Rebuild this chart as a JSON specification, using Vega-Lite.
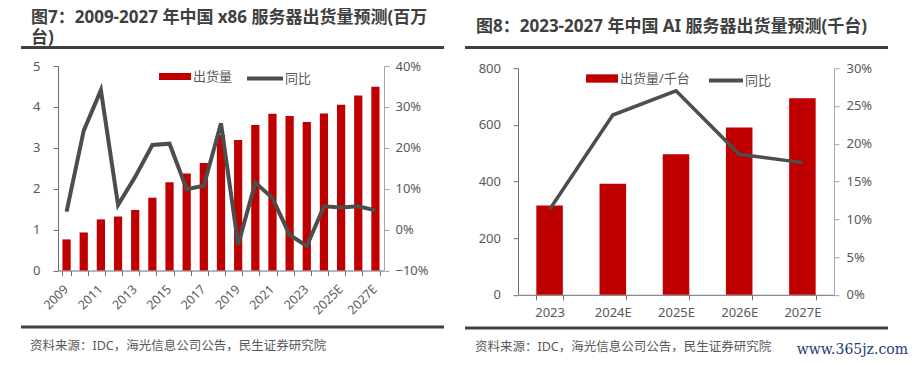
{
  "$schema": "https://vega.github.io/schema/vega-lite/v6.json",
  "padding": {"left": 21, "top": 7, "right": 5, "bottom": 5},
  "title": {"text": "www.365jz.com", "orient": "bottom", "anchor": "end", "offset": 0, "dx": 20, "dy": -11, "baseline": "top", "font": "DejaVu Serif", "fontSize": 14, "fontWeight": "normal", "color": "#1f3a73"},
  "config": {
    "font": "Noto Sans, Noto Sans CJK SC",
    "view": {"stroke": null},
    "axis": {"labelFont": "Noto Sans, Noto Sans CJK SC", "labelColor": "#595959", "labelFontSize": 13, "domainColor": "#6e6e6e", "tickColor": "#6e6e6e", "tickSize": 5, "grid": false},
    "legend": {"labelFont": "Noto Sans, Noto Sans CJK SC", "labelColor": "#595959", "labelFontSize": 13, "padding": 0}
  },
  "resolve": {"scale": {"color": "independent", "stroke": "independent"}},
  "spacing": 21,
  "hconcat": [
    {
      "resolve": {"scale": {"color": "independent", "stroke": "independent"}},
      "spacing": 2.5,
      "vconcat": [
        {
          "resolve": {"scale": {"color": "independent", "stroke": "independent"}},
          "bounds": "flush",
          "spacing": 18,
          "vconcat": [
            {
              "width": 421, "height": 1,
              "view": {"stroke": "#404040", "strokeWidth": 2},
              "title": {"text": ["图7：2009-2027 年中国 x86 服务器出货量预测(百万", "台)"], "anchor": "start", "frame": "group", "dx": 9, "offset": -22.3, "baseline": "bottom", "lineHeight": 20, "font": "Noto Sans, Noto Sans CJK SC", "fontSize": 17, "fontWeight": "bold", "color": "#404040"},
              "data": {"values": [{}]},
              "mark": {"type": "text", "text": ""},
              "encoding": {}
            },
            {
              "width": 421, "height": 204.5,
              "data": {"values": [
                {"year": "2009", "ship": 0.76, "yoy": 0.044},
                {"year": "2010", "ship": 0.93, "yoy": 0.242},
                {"year": "2011", "ship": 1.25, "yoy": 0.341},
                {"year": "2012", "ship": 1.32, "yoy": 0.060},
                {"year": "2013", "ship": 1.48, "yoy": 0.129},
                {"year": "2014", "ship": 1.78, "yoy": 0.207},
                {"year": "2015", "ship": 2.16, "yoy": 0.210},
                {"year": "2016", "ship": 2.37, "yoy": 0.099},
                {"year": "2017", "ship": 2.63, "yoy": 0.107},
                {"year": "2018", "ship": 3.31, "yoy": 0.260},
                {"year": "2019", "ship": 3.19, "yoy": -0.037},
                {"year": "2020", "ship": 3.56, "yoy": 0.115},
                {"year": "2021", "ship": 3.83, "yoy": 0.077},
                {"year": "2022", "ship": 3.78, "yoy": -0.013},
                {"year": "2023", "ship": 3.63, "yoy": -0.040},
                {"year": "2024E", "ship": 3.84, "yoy": 0.057},
                {"year": "2025E", "ship": 4.05, "yoy": 0.054},
                {"year": "2026E", "ship": 4.28, "yoy": 0.057},
                {"year": "2027E", "ship": 4.49, "yoy": 0.047}
              ]},
              "encoding": {
                "x": {"field": "year", "type": "ordinal", "sort": null,
                  "scale": {"range": [36, 362], "paddingInner": 0.52, "paddingOuter": 0.26},
                  "axis": {"title": null, "tickBand": "extent", "labelAngle": -45, "labelFontSize": 12.5, "labelPadding": 7, "labelOffset": -5, "labelOverlap": false,
                    "labelExpr": "indexof(['2009','2011','2013','2015','2017','2019','2021','2023','2025E','2027E'], datum.value) >= 0 ? datum.label : ''"}}
              },
              "layer": [
                {
                  "mark": {"type": "bar"},
                  "encoding": {
                    "y": {"field": "ship", "type": "quantitative", "scale": {"domain": [0, 5], "nice": false},
                      "axis": {"orient": "left", "offset": -36, "title": null, "values": [0, 1, 2, 3, 4, 5], "labelPadding": 13}},
                    "color": {"datum": "出货量", "scale": {"range": ["#c00000"]},
                      "legend": {"orient": "none", "legendX": 137, "legendY": -5.5, "title": null, "symbolType": "M-1,-0.22H1V0.22H-1Z", "symbolSize": 1024, "symbolStrokeWidth": 0, "labelOffset": 2}}
                  }
                },
                {
                  "mark": {"type": "line", "strokeWidth": 4},
                  "encoding": {
                    "y": {"field": "yoy", "type": "quantitative", "scale": {"domain": [-0.1, 0.4], "nice": false, "zero": false},
                      "axis": {"orient": "right", "offset": -59, "title": null, "values": [-0.1, 0, 0.1, 0.2, 0.3, 0.4], "format": ".0%", "labelPadding": 6, "domainColor": "#a6a6a6", "tickColor": "#a6a6a6"}},
                    "stroke": {"datum": "同比", "scale": {"range": ["#4d4d4d"]},
                      "legend": {"orient": "none", "legendX": 223, "legendY": -7.5, "title": null, "symbolType": "stroke", "symbolSize": 1296, "symbolStrokeWidth": 4, "labelOffset": 0}}
                  }
                }
              ],
              "resolve": {"scale": {"y": "independent"}}
            }
          ]
        },
        {
          "width": 421, "height": 1,
          "view": {"stroke": "#404040", "strokeWidth": 2},
          "title": {"text": "资料来源：IDC，海光信息公司公告，民生证券研究院", "orient": "bottom", "anchor": "start", "frame": "group", "dx": 8, "offset": 7.5, "baseline": "top", "font": "Noto Sans, Noto Sans CJK SC", "fontSize": 12.5, "fontWeight": "normal", "color": "#595959"},
          "data": {"values": [{}]},
          "mark": {"type": "text", "text": ""},
          "encoding": {}
        }
      ]
    },
    {
      "resolve": {"scale": {"color": "independent", "stroke": "independent"}},
      "spacing": 0.5,
      "vconcat": [
        {
          "resolve": {"scale": {"color": "independent", "stroke": "independent"}},
          "bounds": "flush",
          "spacing": 20.2,
          "vconcat": [
            {
              "width": 421, "height": 1,
              "view": {"stroke": "#404040", "strokeWidth": 2},
              "title": {"text": "图8：2023-2027 年中国 AI 服务器出货量预测(千台)", "anchor": "start", "frame": "group", "dx": 10, "offset": -11.5, "baseline": "bottom", "font": "Noto Sans, Noto Sans CJK SC", "fontSize": 17, "fontWeight": "bold", "color": "#404040"},
              "data": {"values": [{}]},
              "mark": {"type": "text", "text": ""},
              "encoding": {}
            },
            {
              "width": 421, "height": 226.6,
              "data": {"values": [
                {"year": "2023", "ship": 315, "yoy": 0.113},
                {"year": "2024E", "ship": 392, "yoy": 0.238},
                {"year": "2025E", "ship": 496, "yoy": 0.270},
                {"year": "2026E", "ship": 591, "yoy": 0.186},
                {"year": "2027E", "ship": 694, "yoy": 0.175}
              ]},
              "encoding": {
                "x": {"field": "year", "type": "ordinal", "sort": null,
                  "scale": {"range": [52, 368], "paddingInner": 0.58, "paddingOuter": 0.29},
                  "axis": {"title": null, "tickBand": "extent", "labelAngle": 0, "labelFontSize": 13, "labelPadding": 7}}
              },
              "layer": [
                {
                  "mark": {"type": "bar"},
                  "encoding": {
                    "y": {"field": "ship", "type": "quantitative", "scale": {"domain": [0, 800], "nice": false},
                      "axis": {"orient": "left", "offset": -52, "title": null, "values": [0, 200, 400, 600, 800], "labelPadding": 12.5}},
                    "color": {"datum": "出货量/千台", "scale": {"range": ["#c00000"]},
                      "legend": {"orient": "none", "legendX": 120, "legendY": -5.7, "title": null, "symbolType": "M-1,-0.26H1V0.26H-1Z", "symbolSize": 1024, "symbolStrokeWidth": 0, "labelOffset": 2}}
                  }
                },
                {
                  "mark": {"type": "line", "strokeWidth": 3.5},
                  "encoding": {
                    "y": {"field": "yoy", "type": "quantitative", "scale": {"domain": [0, 0.3], "nice": false, "zero": false},
                      "axis": {"orient": "right", "offset": -53, "title": null, "values": [0, 0.05, 0.1, 0.15, 0.2, 0.25, 0.3], "format": ".0%", "labelPadding": 7, "domainColor": "#a6a6a6", "tickColor": "#a6a6a6"}},
                    "stroke": {"datum": "同比", "scale": {"range": ["#4d4d4d"]},
                      "legend": {"orient": "none", "legendX": 241, "legendY": -6.7, "title": null, "symbolType": "stroke", "symbolSize": 1156, "symbolStrokeWidth": 4, "labelOffset": 0}}
                  }
                }
              ],
              "resolve": {"scale": {"y": "independent"}}
            }
          ]
        },
        {
          "width": 421, "height": 1,
          "view": {"stroke": "#404040", "strokeWidth": 2},
          "title": {"text": "资料来源：IDC，海光信息公司公告，民生证券研究院", "orient": "bottom", "anchor": "start", "frame": "group", "dx": 9, "offset": 7.5, "baseline": "top", "font": "Noto Sans, Noto Sans CJK SC", "fontSize": 12.5, "fontWeight": "normal", "color": "#595959"},
          "data": {"values": [{}]},
          "mark": {"type": "text", "text": ""},
          "encoding": {}
        }
      ]
    }
  ]
}
